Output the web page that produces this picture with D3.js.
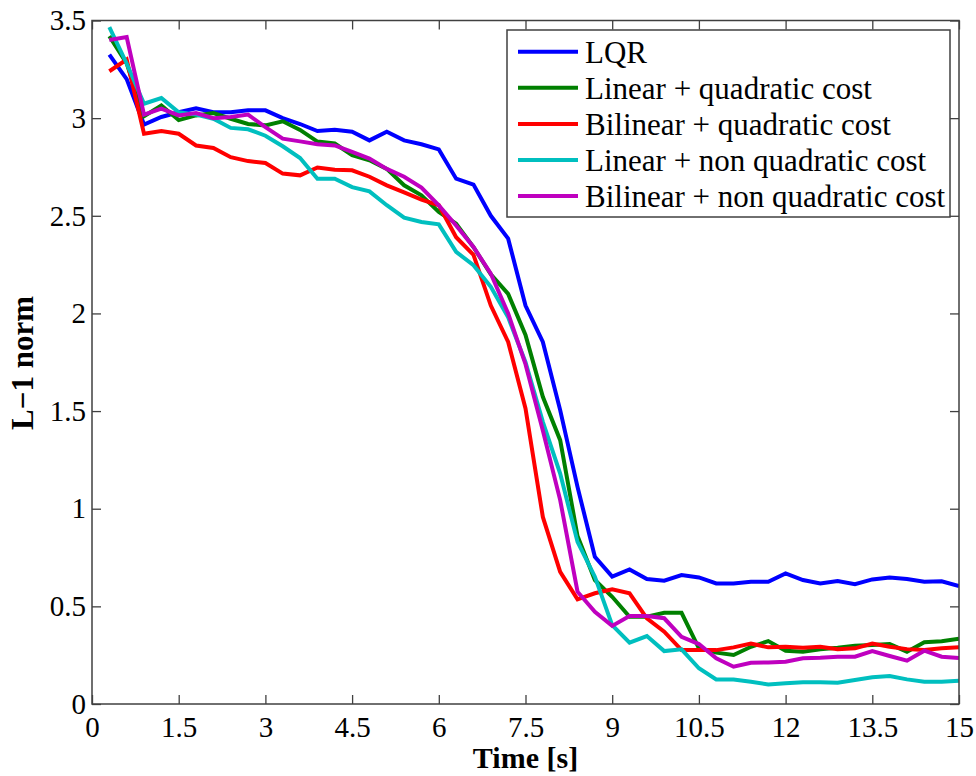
<!DOCTYPE html>
<html><head><meta charset="utf-8">
<script src="https://cdn.jsdelivr.net/npm/d3@7/dist/d3.min.js"></script>
<style>body{margin:0;background:#fff}svg{display:block}</style>
</head><body><svg id="c" width="976" height="776"></svg>
<script>
const time = [0.3,0.6,0.9,1.2,1.5,1.8,2.1,2.4,2.7,3.0,3.3,3.6,3.9,4.2,4.5,4.8,5.1,5.4,5.7,6.0,
  6.3,6.6,6.9,7.2,7.5,7.8,8.1,8.4,8.7,9.0,9.3,9.6,9.9,10.2,10.5,10.8,11.1,11.4,11.7,12.0,
  12.3,12.6,12.9,13.2,13.5,13.8,14.1,14.4,14.7,15.0];
const lqr = [3.325,3.20,2.967,3.006,3.03,3.05,3.03,3.03,3.04,3.04,3.0,2.97,2.934,2.94,2.93,2.886,2.93,2.886,2.866,2.84,
  2.69,2.66,2.50,2.383,2.04,1.854,1.505,1.112,0.754,0.652,0.689,0.64,0.631,0.66,0.648,0.617,0.617,0.626,0.626,0.669,
  0.635,0.617,0.63,0.614,0.638,0.648,0.64,0.626,0.628,0.604];
const linearQuad = [3.42,3.28,3.01,3.065,2.99,3.014,3.026,2.997,2.97,2.963,2.984,2.94,2.88,2.87,2.81,2.784,2.74,2.656,2.605,2.52,
  2.46,2.34,2.20,2.10,1.89,1.573,1.351,0.86,0.635,0.549,0.447,0.447,0.467,0.467,0.285,0.263,0.251,0.293,0.322,0.273,
  0.268,0.28,0.288,0.298,0.302,0.307,0.268,0.316,0.321,0.334];
const bilinearQuad = [3.24,3.30,2.92,2.934,2.92,2.86,2.847,2.80,2.78,2.77,2.716,2.707,2.747,2.736,2.733,2.70,2.656,2.62,2.583,2.554,
  2.39,2.30,2.04,1.854,1.513,0.958,0.677,0.536,0.567,0.587,0.567,0.439,0.37,0.276,0.276,0.276,0.29,0.31,0.29,0.293,
  0.288,0.293,0.28,0.285,0.31,0.293,0.281,0.276,0.285,0.29];
const linearNonQuad = [3.466,3.28,3.074,3.103,3.03,3.018,2.997,2.95,2.943,2.91,2.856,2.796,2.69,2.69,2.647,2.625,2.554,2.49,2.468,2.456,
  2.315,2.247,2.136,1.98,1.75,1.445,1.18,0.83,0.652,0.404,0.314,0.348,0.271,0.28,0.183,0.126,0.126,0.114,0.10,0.106,
  0.111,0.111,0.109,0.123,0.137,0.143,0.126,0.114,0.114,0.119];
const bilinearNonQuad = [3.40,3.415,3.018,3.049,3.014,3.026,3.0,3.006,3.018,2.954,2.895,2.881,2.866,2.86,2.827,2.793,2.74,2.70,2.644,2.554,
  2.45,2.34,2.204,2.0,1.74,1.40,1.044,0.575,0.472,0.40,0.45,0.45,0.439,0.344,0.307,0.234,0.191,0.211,0.213,0.216,
  0.234,0.237,0.242,0.242,0.271,0.246,0.222,0.273,0.242,0.235];
const seriesNames = ["LQR","Linear + quadratic cost","Bilinear + quadratic cost","Linear + non quadratic cost","Bilinear + non quadratic cost"];
const seriesColors = ["#0000FF","#008000","#FF0000","#00BFBF","#BF00BF"];
const seriesValues = [lqr, linearQuad, bilinearQuad, linearNonQuad, bilinearNonQuad];
const xTicks = [0,1.5,3,4.5,6,7.5,9,10.5,12,13.5,15];
const yTicks = [0,0.5,1,1.5,2,2.5,3,3.5];
const xTitle = "Time [s]";
const yTitle = "L\u22121 norm";

const L=92, R=959, T=20.5, B=704;
const svg = d3.select("#c");
const x = d3.scaleLinear().domain([0,15]).range([L,R]);
const y = d3.scaleLinear().domain([0,3.5]).range([B,T]);
const axisCol = "#404040";
const font = "'Liberation Serif','Times New Roman',serif";
const tickLen = 9;

// ticks inward on all four sides
const gb = svg.append("g").attr("transform",`translate(0,${B})`)
  .call(d3.axisBottom(x).tickValues(xTicks).tickSize(-tickLen).tickPadding(14).tickFormat(d3.format("")));
const gt = svg.append("g").attr("transform",`translate(0,${T})`)
  .call(d3.axisTop(x).tickValues(xTicks).tickSize(-tickLen).tickFormat(""));
const gl = svg.append("g").attr("transform",`translate(${L},0)`)
  .call(d3.axisLeft(y).tickValues(yTicks).tickSize(-tickLen).tickPadding(6).tickFormat(d3.format("")));
const gr = svg.append("g").attr("transform",`translate(${R},0)`)
  .call(d3.axisRight(y).tickValues(yTicks).tickSize(-tickLen).tickFormat(""));
[gb,gt,gl,gr].forEach(g=>{
  g.select(".domain").remove();
  g.selectAll(".tick line").attr("stroke",axisCol).attr("stroke-width",1.3);
  g.selectAll(".tick text").attr("font-family",font).attr("font-size",29).attr("fill","#000");
});
gb.selectAll(".tick text").attr("dy","0.71em").attr("y",12);
gl.selectAll(".tick text").attr("x",-6);

// data lines (clipped)
svg.append("clipPath").attr("id","clip").append("rect").attr("x",L).attr("y",T).attr("width",R-L).attr("height",B-T);
const line = d3.line().x((d,i)=>x(time[i])).y(d=>y(d));
const lg = svg.append("g").attr("clip-path","url(#clip)");
seriesValues.forEach((vals,k)=>{
  lg.append("path").datum(vals).attr("d",line).attr("fill","none")
    .attr("stroke",seriesColors[k]).attr("stroke-width",4);
});

// box
svg.append("rect").attr("x",L).attr("y",T).attr("width",R-L).attr("height",B-T)
  .attr("fill","none").attr("stroke",axisCol).attr("stroke-width",1.5);

// axis titles
svg.append("text").attr("x",(L+R)/2).attr("y",768).attr("text-anchor","middle")
  .attr("font-family",font).attr("font-weight","bold").attr("font-size",30).text(xTitle);
svg.append("text").attr("transform","translate(33,363) rotate(-90)").attr("text-anchor","middle")
  .attr("font-family",font).attr("font-weight","bold").attr("font-size",31).text(yTitle);

// legend
const lx=507, ly=30, lw=443, lh=187;
const leg = svg.append("g");
leg.append("rect").attr("x",lx).attr("y",ly).attr("width",lw).attr("height",lh)
  .attr("fill","#fff").attr("stroke",axisCol).attr("stroke-width",1.5);
seriesNames.forEach((name,k)=>{
  const cy = 51.7 + k*36.1;
  leg.append("line").attr("x1",518).attr("x2",578).attr("y1",cy).attr("y2",cy)
    .attr("stroke",seriesColors[k]).attr("stroke-width",4);
  leg.append("text").attr("x",585).attr("y",cy).attr("dy","0.35em")
    .attr("font-family",font).attr("font-size",31).text(name);
});
</script>
</body></html>
